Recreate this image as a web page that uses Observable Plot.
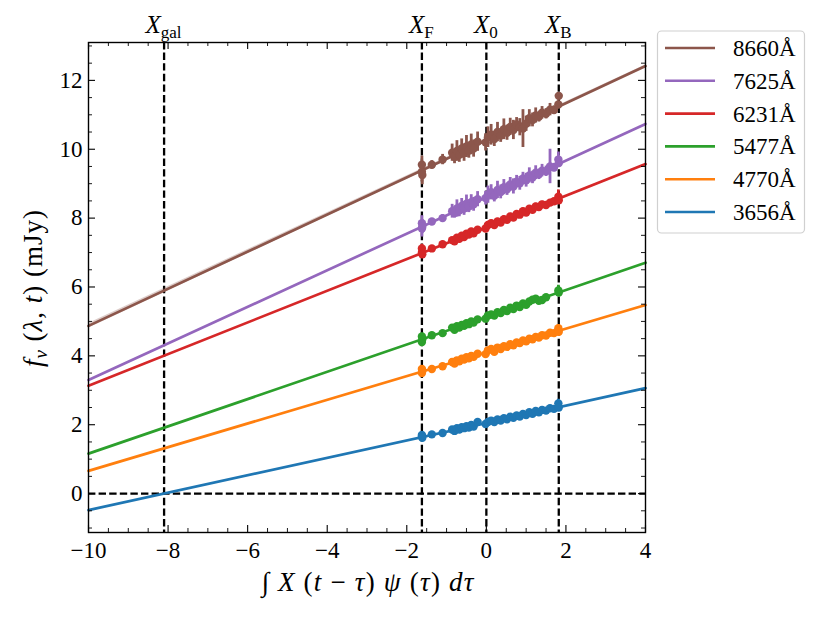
<!DOCTYPE html>
<html><head><meta charset="utf-8">
<script src="https://cdn.jsdelivr.net/npm/d3@7"></script>
<script src="https://cdn.jsdelivr.net/npm/@observablehq/plot@0.6"></script>
<style>
body{margin:0;background:#fff}
#chart svg{font-family:"Liberation Serif","DejaVu Serif",serif}
</style>
</head><body><div id="chart"></div>
<script>
// ---- data ----
const bands = ["3656Å","4770Å","5477Å","6231Å","7625Å","8660Å"];
const colors = ["#1f77b4","#ff7f0e","#2ca02c","#d62728","#9467bd","#8c564b"];
const intercepts = [2.05, 4.10, 5.12, 7.73, 8.61, 10.26];
const slopes = [0.253, 0.344, 0.396, 0.46, 0.531, 0.539];
const xFit = [-10, 4];
const brownBandHalf = [0.07, 0.03];
const refNames = ["gal","F","0","B"];
const refX = [-8.1, -1.62, 0, 1.82];
const xTicksMajor = [-10,-8,-6,-4,-2,0,2,4];
const yTicksMajor = [0,2,4,6,8,10,12];

const xObs = [-1.62,-1.62,-1.61,-1.37,-1.10,-0.86,-0.80,-0.74,-0.68,-0.62,-0.56,-0.50,-0.44,-0.38,-0.32,-0.22,-0.02,0.04,0.12,0.20,0.28,0.36,0.44,0.52,0.60,0.68,0.76,0.84,0.92,1.00,1.08,1.16,1.24,1.32,1.40,1.50,1.60,1.70,1.81,1.82];

const f3656 = [1.66,1.70,1.62,1.72,1.76,1.86,1.82,1.90,1.86,1.93,1.90,1.96,1.92,1.99,1.95,2.08,2.02,2.08,2.12,2.08,2.15,2.12,2.19,2.16,2.23,2.20,2.27,2.24,2.31,2.28,2.36,2.32,2.40,2.36,2.43,2.41,2.48,2.46,2.62,2.50];
const f4770 = [3.50,3.62,3.56,3.62,3.70,3.82,3.78,3.87,3.84,3.92,3.89,3.96,3.93,4.00,3.97,4.06,4.05,4.16,4.20,4.12,4.24,4.20,4.28,4.26,4.34,4.31,4.39,4.37,4.45,4.42,4.50,4.48,4.55,4.53,4.60,4.59,4.67,4.66,4.80,4.70];
const f5477 = [4.40,4.56,4.48,4.60,4.66,4.82,4.76,4.86,4.82,4.90,4.87,4.95,4.92,5.00,4.97,5.06,5.08,5.17,5.20,5.17,5.27,5.24,5.33,5.30,5.40,5.36,5.46,5.42,5.52,5.48,5.58,5.63,5.66,5.60,5.62,5.70,null,null,5.90,5.84];
const f6231 = [7.00,7.12,6.95,7.12,7.24,7.36,7.33,7.43,7.40,7.49,7.45,7.55,7.52,7.61,7.56,7.66,7.70,7.80,7.85,7.80,7.90,7.87,7.97,7.95,8.05,8.02,8.12,8.10,8.20,8.16,8.27,8.24,8.34,8.32,8.40,8.38,8.45,8.49,8.62,8.52];
const f7625 = [7.70,7.85,7.75,7.90,8.00,8.20,8.15,8.28,8.22,8.35,8.28,8.42,8.34,8.46,8.40,8.55,8.58,8.68,8.75,8.65,8.82,8.76,8.90,8.84,8.98,8.92,9.06,9.01,9.15,9.10,9.24,9.18,9.32,9.27,9.38,9.36,9.50,9.47,9.70,9.60];
const f8660 = [9.35,9.55,9.25,9.55,9.70,9.90,9.78,9.95,9.84,10.02,9.90,10.08,9.96,10.14,10.02,10.22,10.20,10.35,10.42,10.30,10.50,10.40,10.58,10.48,10.65,10.56,10.72,10.64,10.60,10.74,10.90,10.85,10.98,10.94,11.06,11.03,11.15,11.14,11.30,11.55];

const e3656 = [0.05,0.05,0.05,0.04,0.05,0.05,0.05,0.06,0.05,0.06,0.05,0.06,0.05,0.06,0.05,0.08,0.05,0.06,0.06,0.05,0.06,0.05,0.06,0.05,0.06,0.05,0.06,0.05,0.06,0.05,0.06,0.05,0.06,0.05,0.06,0.05,0.06,0.05,0.12,0.06];
const e4770 = [0.10,0.08,0.08,0.06,0.06,0.07,0.07,0.08,0.07,0.08,0.07,0.08,0.07,0.08,0.07,0.08,0.07,0.08,0.08,0.07,0.08,0.07,0.08,0.07,0.08,0.07,0.08,0.07,0.08,0.07,0.08,0.07,0.08,0.07,0.08,0.07,0.07,0.07,0.10,0.08];
const e5477 = [0.12,0.10,0.08,0.06,0.06,0.08,0.07,0.08,0.07,0.08,0.07,0.08,0.07,0.08,0.07,0.08,0.07,0.08,0.08,0.07,0.08,0.07,0.08,0.07,0.08,0.07,0.08,0.07,0.08,0.07,0.08,0.07,0.08,0.07,0.08,0.07,0.07,0.07,0.15,0.08];
const e6231 = [0.10,0.12,0.10,0.06,0.07,0.08,0.08,0.09,0.08,0.09,0.08,0.09,0.08,0.09,0.08,0.09,0.08,0.09,0.09,0.08,0.09,0.08,0.09,0.08,0.09,0.08,0.09,0.08,0.09,0.08,0.09,0.08,0.09,0.08,0.09,0.08,0.09,0.08,0.20,0.10];
const e7625 = [0.25,0.22,0.20,0.08,0.10,0.20,0.15,0.25,0.18,0.22,0.20,0.25,0.18,0.22,0.20,0.22,0.20,0.25,0.22,0.18,0.25,0.20,0.22,0.18,0.20,0.22,0.18,0.20,0.18,0.20,0.22,0.18,0.20,0.15,0.18,0.15,0.50,0.12,0.22,0.12];
const e8660 = [0.30,0.25,0.28,0.12,0.15,0.25,0.20,0.30,0.22,0.28,0.25,0.32,0.22,0.30,0.25,0.28,0.25,0.30,0.30,0.22,0.28,0.20,0.30,0.22,0.25,0.28,0.20,0.25,0.55,0.22,0.25,0.20,0.22,0.15,0.18,0.15,0.18,0.12,0.10,0.08];

const fluxes = [f3656,f4770,f5477,f6231,f7625,f8660];
const errs = [e3656,e4770,e5477,e6231,e7625,e8660];

// ---- tables ----
const points = [];
bands.forEach((b,i)=>xObs.forEach((x,j)=>{
  const y = fluxes[i][j];
  if (y != null) points.push({band:b, x, y, lo:y-errs[i][j], hi:y+errs[i][j]});
}));
const fitLines = [];
bands.forEach((b,i)=>xFit.forEach(x=>fitLines.push({band:b, x, y:intercepts[i]+slopes[i]*x})));
const brownArea = xFit.map((x,k)=>{const y=intercepts[5]+slopes[5]*x; return {x, y1:y-brownBandHalf[k], y2:y+brownBandHalf[k]};});

const W=830, H=623, mL=88, mR=185, mT=42, mB=91;
const frameH = H-mT-mB, frameW = W-mL-mR;
const xMinor = d3.range(-10,4.001,0.5).filter(v=>!xTicksMajor.includes(v));
const yMinor = d3.range(-1,13.01,0.5).filter(v=>!yTicksMajor.includes(v));
const dash = {stroke:"black", strokeWidth:2.3, strokeDasharray:"7.4,3.2"};

const plot = Plot.plot({
  width:W, height:H, marginLeft:mL, marginRight:mR, marginTop:mT, marginBottom:mB,
  style:{fontSize:"23px", fontFamily:"Liberation Serif, serif", background:"white"},
  x:{domain:[-10,4]},
  y:{domain:[-1.13,13.1]},
  color:{domain:bands, range:colors},
  marks:[
    Plot.ruleX(refX, dash),
    Plot.ruleY([0], dash),
    Plot.areaY(brownArea, {x:"x", y1:"y1", y2:"y2", fill:colors[5], fillOpacity:0.3}),
    Plot.line(fitLines, {x:"x", y:"y", z:"band", stroke:"band", strokeWidth:2.7}),
    Plot.ruleX(points, {x:"x", y1:"lo", y2:"hi", stroke:"band", strokeWidth:2.8}),
    Plot.dot(points, {x:"x", y:"y", fill:"band", r:4.2}),
    // inward ticks on all sides
    Plot.tickX(xTicksMajor, {x:d=>d, insetTop:frameH-7, stroke:"black", strokeWidth:1.1}),
    Plot.tickX(xTicksMajor, {x:d=>d, insetBottom:frameH-7, stroke:"black", strokeWidth:1.1}),
    Plot.tickX(xMinor, {x:d=>d, insetTop:frameH-4, stroke:"black", strokeWidth:0.9}),
    Plot.tickX(xMinor, {x:d=>d, insetBottom:frameH-4, stroke:"black", strokeWidth:0.9}),
    Plot.tickY(yTicksMajor, {y:d=>d, insetRight:frameW-7, stroke:"black", strokeWidth:1.1}),
    Plot.tickY(yTicksMajor, {y:d=>d, insetLeft:frameW-7, stroke:"black", strokeWidth:1.1}),
    Plot.tickY(yMinor, {y:d=>d, insetRight:frameW-4, stroke:"black", strokeWidth:0.9}),
    Plot.tickY(yMinor, {y:d=>d, insetLeft:frameW-4, stroke:"black", strokeWidth:0.9}),
    Plot.frame({stroke:"black", strokeWidth:1.4}),
    Plot.axisX({ticks:xTicksMajor, tickSize:0, tickPadding:9, label:null, fontSize:23}),
    Plot.axisY({ticks:yTicksMajor, tickSize:0, tickPadding:6, label:null, fontSize:23})
  ]
});
document.getElementById("chart").appendChild(plot);

// ---- annotations with sub/superscripts ----
const svg = d3.select(plot);
const sx = plot.scale("x");
const font = "Liberation Serif, serif";
refNames.forEach((n,i)=>{
  const t = svg.append("text").attr("x", sx.apply(refX[i])).attr("y", 33)
    .attr("text-anchor","middle").attr("font-family",font).attr("font-size",25).attr("fill","black");
  t.append("tspan").attr("font-style","italic").text("X");
  t.append("tspan").attr("font-size",17).attr("dy",5).text(n);
});
// x label
const xl = svg.append("text").attr("x",368).attr("y",591).attr("text-anchor","middle")
  .attr("font-family",font).attr("font-size",27).attr("letter-spacing","1.2px").attr("fill","black");
[["∫ ",null],["X","i"],[" (",null],["t","i"],[" − ",null],["τ","i"],[") ",null],["ψ","i"],[" (",null],["τ","i"],[") ",null],["d","i"],["τ","i"]]
  .forEach(([s,st])=>xl.append("tspan").attr("font-style",st?"italic":"normal").text(s));
// y label
const yl = svg.append("text").attr("transform","translate(42,288) rotate(-90)").attr("text-anchor","middle")
  .attr("font-family",font).attr("font-size",27).attr("letter-spacing","1px").attr("fill","black");
yl.append("tspan").attr("font-style","italic").text("f");
yl.append("tspan").attr("font-style","italic").attr("font-size",19).attr("dy",5).text("ν");
yl.append("tspan").attr("dy",-5).text(" (");
yl.append("tspan").attr("font-style","italic").text("λ");
yl.append("tspan").text(", ");
yl.append("tspan").attr("font-style","italic").text("t");
yl.append("tspan").text(") (mJy)");
// legend
const lg = svg.append("g");
lg.append("rect").attr("x",657.5).attr("y",31).attr("width",147).attr("height",202).attr("rx",4)
  .attr("fill","white").attr("stroke","#d0d0d0").attr("stroke-width",1.2);
bands.slice().reverse().forEach((b,k)=>{
  const c = colors[bands.indexOf(b)];
  const y = 48 + k*32.8;
  lg.append("line").attr("x1",665).attr("x2",715).attr("y1",y).attr("y2",y).attr("stroke",c).attr("stroke-width",2.6);
  lg.append("text").attr("x",733).attr("y",y).attr("dy","0.35em").attr("text-anchor","start")
    .attr("font-family",font).attr("font-size",23).attr("fill","black").text(b);
});
</script>
</body></html>
